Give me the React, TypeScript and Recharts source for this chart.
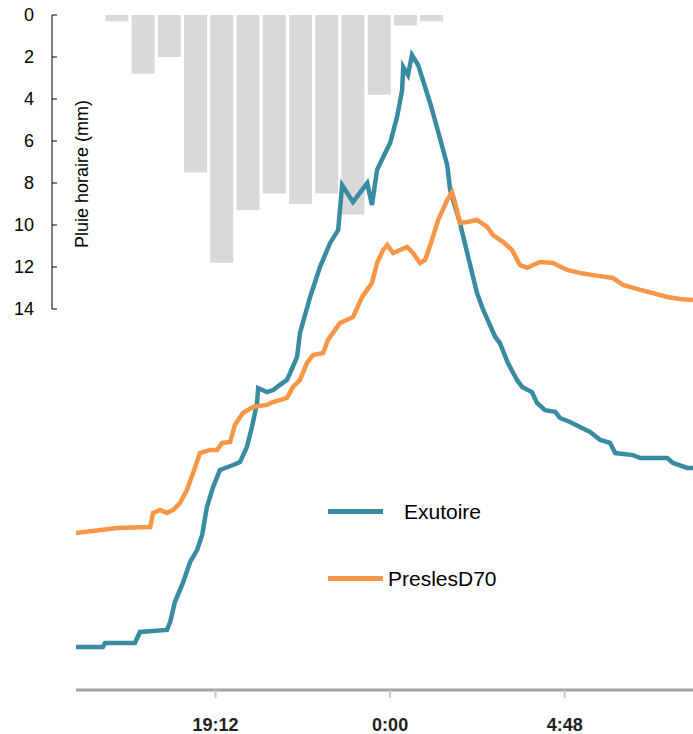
import React from "react";
import { BarChart, Bar, LineChart, Line, XAxis, YAxis, Legend } from "recharts";

// pluie horaire (axe secondaire, inversé)
const rainHours = ["16h", "17h", "18h", "19h", "20h", "21h", "22h", "23h", "0h", "1h", "2h", "3h", "4h"];
const rainMm = [0.3, 2.8, 2.0, 7.5, 11.8, 9.3, 8.5, 9.0, 8.5, 9.5, 3.8, 0.5, 0.3];
const rainTicks = [0, 2, 4, 6, 8, 10, 12, 14];

// axe du temps (heures depuis minuit du premier jour)
const timeDomain = [15.36, 32.33];
const timeTicks = [19.2, 24, 28.8];
const timeLabels = ["19:12", "0:00", "4:48"];

// débits (unité relative)
const exutoireT = [
  15.36, 16.1, 16.16, 16.98, 17.12, 17.86, 17.95, 18.08, 18.3, 18.5, 18.69, 18.83, 18.96, 19.13,
  19.32, 19.68, 19.87, 20.06, 20.2, 20.34, 20.37, 20.61, 20.78, 20.97, 21.16, 21.25, 21.44, 21.52,
  21.8, 22.07, 22.35, 22.57, 22.68, 22.98, 23.37, 23.5, 23.64, 23.81, 24.0, 24.19, 24.33, 24.36,
  24.49, 24.6, 24.77, 24.96, 25.1, 25.37, 25.57, 25.65, 25.92, 26.12, 26.39, 26.56, 26.89, 27.02,
  27.24, 27.49, 27.63, 27.9, 28.04, 28.26, 28.54, 28.67, 28.95, 29.22, 29.5, 29.78, 30.05, 30.19,
  30.68, 30.88, 31.62, 31.78, 32.17, 32.33,
];
const exutoireQ = [
  19.1, 19.1, 20.9, 20.9, 25.8, 26.7, 30.2, 39.1, 47.6, 56.9, 62.2, 68.9, 81.3, 90.2,
  97.8, 100, 101.3, 108, 116.9, 127.6, 134.2, 132.4, 133.3, 135.6, 137.8, 140.9, 148, 158.7,
  174.7, 188, 198.7, 204.4, 224.4, 216.9, 225.3, 215.6, 231.1, 236.9, 243.1, 254.7, 266.7, 276.9,
  273.3, 282.2, 277.8, 268, 260.9, 245.3, 233.3, 222.2, 207.6, 194.2, 176.4, 168.9, 156.9, 154.2,
  145.3, 137.8, 134.7, 132.4, 127.6, 124.4, 123.6, 120.9, 119.1, 116.9, 114.7, 111.1, 109.8, 105.3,
  104.4, 103.1, 103.1, 100.9, 98.7, 98.7,
];
const preslesT = [
  15.36, 16.49, 17.4, 17.48, 17.67, 17.86, 18.03, 18.22, 18.41, 18.58, 18.77, 19.05, 19.24, 19.38,
  19.6, 19.73, 19.95, 20.23, 20.61, 20.78, 21.16, 21.33, 21.52, 21.71, 21.88, 22.16, 22.29, 22.62,
  22.98, 23.23, 23.5, 23.64, 23.81, 23.92, 24.08, 24.47, 24.63, 24.82, 24.96, 25.15, 25.32, 25.57,
  25.7, 25.79, 25.92, 26.12, 26.39, 26.67, 26.83, 27.11, 27.35, 27.57, 27.77, 28.12, 28.48, 28.87,
  29.23, 29.58, 30.13, 30.41, 30.88, 31.23, 31.62, 31.98, 32.33,
];
const preslesQ = [
  69.8, 72, 72.4, 78.7, 80, 78.7, 80, 83.1, 88.9, 96.4, 105.3, 106.7, 106.7, 109.8,
  110.2, 117.8, 123.1, 125.8, 126.7, 128, 129.8, 134.7, 137.8, 145.3, 148.9, 149.8, 155.6, 163.1,
  165.8, 174.7, 180.9, 189.8, 195.6, 197.8, 194.2, 196.9, 194.2, 189.8, 191.1, 200, 208.9, 217.8,
  221.3, 216.4, 207.6, 208, 208.9, 205.8, 202.2, 199.1, 195.6, 188.9, 187.6, 190.2, 189.8, 186.7,
  185.3, 184.4, 183.1, 180, 177.8, 176.4, 174.7, 173.8, 173.3,
];

const rainData = rainHours.map((h, i) => ({ h, mm: rainMm[i] }));
const exutoireData = exutoireT.map((t, i) => ({ t, q: exutoireQ[i] }));
const preslesData = preslesT.map((t, i) => ({ t, q: preslesQ[i] }));

const FONT = '"Liberation Sans", Arial, sans-serif';
const legendTextGap = [21, 5];

function renderLegend(props: any) {
  const items = props.payload || [];
  return (
    <div style={{ fontFamily: FONT, fontSize: 21, color: "#000" }}>
      {items.map((e: any, i: number) => (
        <div key={e.value} style={{ display: "flex", alignItems: "center", height: 67 }}>
          <div style={{ width: 55, height: 5, background: e.color }} />
          <span style={{ marginLeft: legendTextGap[i] }}>{e.value}</span>
        </div>
      ))}
    </div>
  );
}

function rainLabel(props: any) {
  const vb = props.viewBox;
  const x = vb.x + vb.width + 29.5;
  const y = vb.y + vb.height / 2 + 12;
  return (
    <text
      x={x}
      y={y}
      transform={`rotate(-90, ${x}, ${y})`}
      textAnchor="middle"
      dominantBaseline="central"
      fontSize={18}
      fontFamily={FONT}
      fill="#000"
    >
      Pluie horaire (mm)
    </text>
  );
}

export default function App() {
  return (
    <div style={{ position: "absolute", left: 0, top: 0, width: 693, height: 734, background: "#fff" }}>
      <div style={{ position: "absolute", left: 0, top: 0 }}>
        <BarChart width={693} height={320} data={rainData} margin={{ top: 15, right: 0, bottom: 11, left: 0 }} barCategoryGap={1.4}>
          <XAxis xAxisId="rain" dataKey="h" hide padding={{ left: 52, right: 248 }} />
          <YAxis
            width={52}
            reversed
            domain={[0, 14]}
            ticks={rainTicks}
            interval={0}
            axisLine={{ stroke: "#000" }}
            tickLine={{ stroke: "#000" }}
            tickSize={-5}
            tickMargin={23}
            tick={{ fontSize: 18, fill: "#000", fontFamily: FONT }}
            label={rainLabel}
          />
          <Bar xAxisId="rain" dataKey="mm" fill="#d9d9d9" isAnimationActive={false} />
        </BarChart>
      </div>
      <div style={{ position: "absolute", left: 0, top: 0 }}>
        <LineChart width={693} height={734} margin={{ top: 15, right: 0, bottom: 0, left: 76 }}>
          <XAxis
            dataKey="t"
            type="number"
            domain={timeDomain}
            allowDataOverflow
            ticks={timeTicks}
            interval={0}
            height={44}
            tickFormatter={(v) => timeLabels[timeTicks.indexOf(v)] ?? ""}
            axisLine={{ stroke: "#a3a3a3", strokeWidth: 3 }}
            tickLine={{ stroke: "#c8c8c8", strokeWidth: 2 }}
            tickSize={8}
            tickMargin={20}
            tick={{ fontSize: 18, fontWeight: "bold", fill: "#222", fontFamily: FONT }}
          />
          <YAxis hide domain={[0, 300]} />
          <Legend
            layout="vertical"
            align="center"
            verticalAlign="middle"
            content={renderLegend}
            wrapperStyle={{ left: 328, top: 478, width: 220 }}
          />
          <Line
            data={exutoireData}
            dataKey="q"
            name="Exutoire"
            type="linear"
            stroke="#388ba0"
            strokeWidth={4.5}
            dot={false}
            isAnimationActive={false}
          />
          <Line
            data={preslesData}
            dataKey="q"
            name="PreslesD70"
            type="linear"
            stroke="#f79646"
            strokeWidth={4.5}
            dot={false}
            isAnimationActive={false}
          />
        </LineChart>
      </div>
    </div>
  );
}
